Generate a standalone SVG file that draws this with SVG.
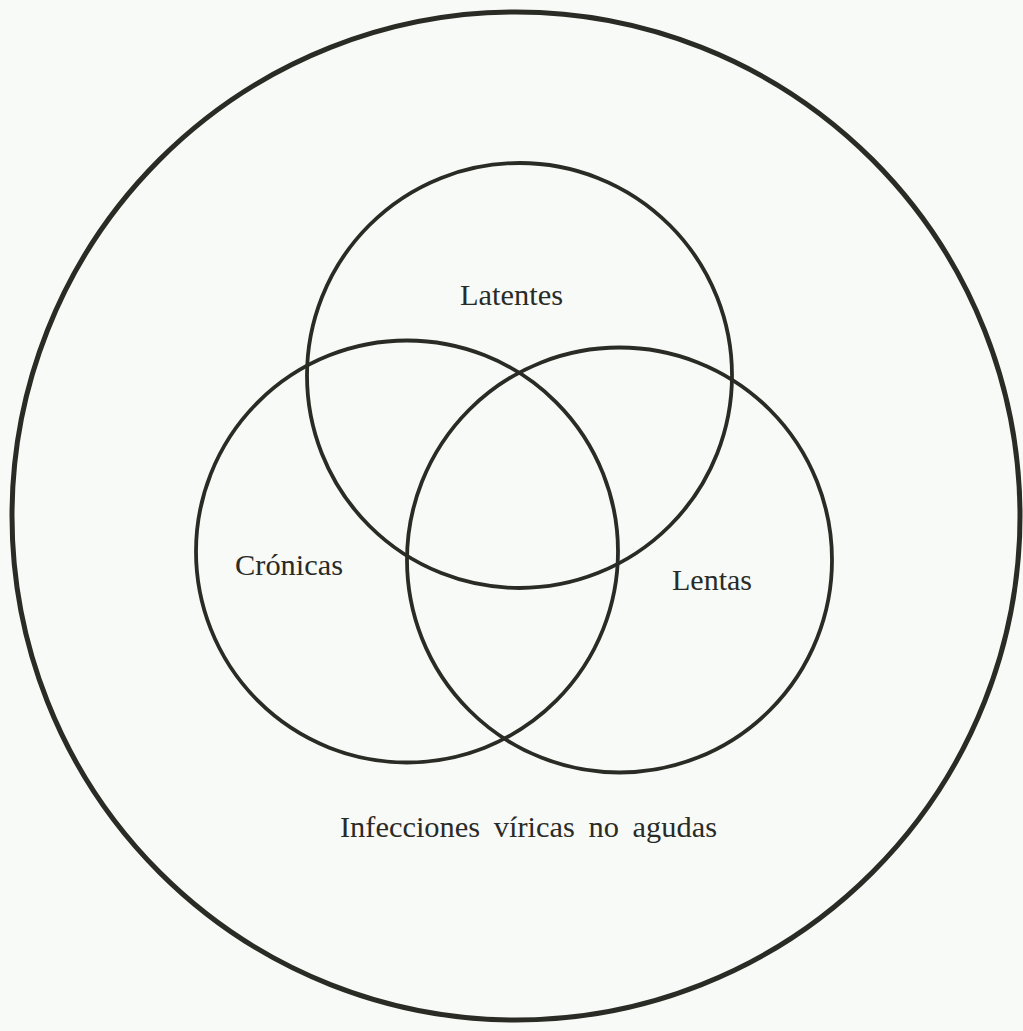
<svg xmlns="http://www.w3.org/2000/svg" width="1023" height="1031" viewBox="0 0 1023 1031">
<style>
.ring{fill:none;stroke:#2b2b25}
.outer{stroke-width:5}
.inner{stroke-width:3.8}
.lbl{font-family:"Liberation Serif","DejaVu Serif",serif;font-size:30px;fill:#2a2a26}
</style>
<rect x="0" y="0" width="1023" height="1031" fill="#f8faf7"/>
<g id="infecciones">
<circle class="ring outer" cx="516" cy="516" r="504"/>
<text class="lbl" x="340" y="837" textLength="377" lengthAdjust="spacingAndGlyphs" word-spacing="6">Infecciones víricas no agudas</text>
</g>
<g id="latentes">
<circle class="ring inner" cx="519.5" cy="375.5" r="212.5"/>
<text class="lbl" x="460" y="305" textLength="103" lengthAdjust="spacingAndGlyphs">Latentes</text>
</g>
<g id="cronicas">
<circle class="ring inner" cx="407" cy="551.5" r="211"/>
<text class="lbl" x="235" y="575" textLength="108" lengthAdjust="spacingAndGlyphs">Crónicas</text>
</g>
<g id="lentas">
<circle class="ring inner" cx="619.5" cy="560" r="212.5"/>
<text class="lbl" x="672" y="590" textLength="80" lengthAdjust="spacingAndGlyphs">Lentas</text>
</g>
<g id="connectors"/>
</svg>
